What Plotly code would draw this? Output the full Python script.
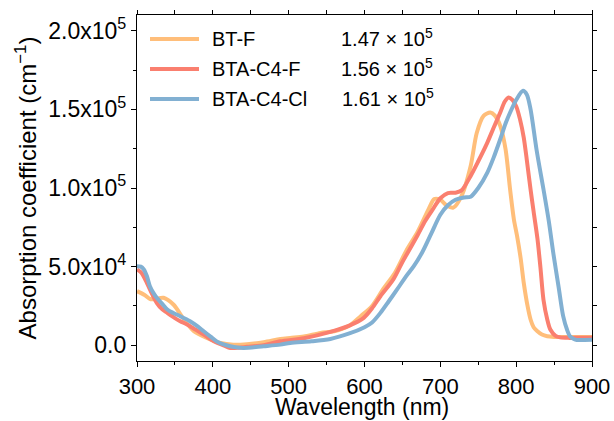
import plotly.graph_objects as go

# ---- data ----
wl_btf = [300, 310, 318, 327, 335, 348, 362, 375, 392, 410, 427, 445, 467, 489, 502, 520, 542, 560, 580, 595,
          610, 625, 640, 655, 670, 685, 692, 700, 708, 717, 728, 740, 748, 757, 766, 772, 779, 786, 792, 797,
          801, 806, 810, 815, 819, 823, 828, 834, 841, 850, 865, 880, 900]
abs_btf = [34400, 32000, 29300, 29800, 30200, 25900, 16400, 8900, 4700, 1500, 400, 700, 1900, 4000, 4700, 5600,
           7900, 8900, 12500, 18500, 25000, 36000, 46000, 60000, 72000, 87000, 93000, 92500, 89000, 87500, 95000,
           114000, 135000, 145900, 148000, 146000, 139500, 124700, 99000, 80000, 70000, 55000, 39700, 25000,
           16400, 11500, 8900, 6800, 5700, 5300, 5200, 5200, 5200]

wl_f = [300, 306, 313, 320, 326, 333, 340, 350, 357, 366, 377, 388, 397, 406, 415, 423, 435, 445, 467, 489,
        520, 555, 580, 599, 610, 621, 638, 650, 656, 670, 680, 690, 700, 710, 720, 728, 740, 750, 762, 770,
        779, 785, 790, 795, 800, 805, 810, 814, 819, 823, 828, 832, 836, 841, 845, 852, 858, 870, 885, 900]
abs_f = [48200, 46000, 39700, 32500, 27000, 23000, 20600, 17300, 15300, 13200, 10000, 6800, 3800, 1500, -200,
         -1700, -1500, -1000, 0, 2500, 4500, 8500, 12500, 17400, 23500, 31200, 41900, 53000, 58000, 70000,
         79000, 86400, 93500, 96800, 97000, 98500, 107700, 117000, 128900, 138000, 148000, 155000, 157600,
         156000, 152000, 143800, 132000, 118000, 99000, 85000, 68000, 49500, 29000, 16400, 10000, 6000, 5000,
         4700, 4800, 4800]

wl_cl = [300, 305, 309, 313, 317, 322, 326, 333, 340, 348, 357, 370, 380, 388, 397, 405, 414, 423, 440, 467,
         489, 502, 530, 555, 580, 600, 610, 621, 632, 643, 655, 665, 676, 688, 700, 710, 720, 731, 740, 750,
         762, 770, 779, 786, 792, 800, 809, 814, 819, 827, 836, 843, 849, 856, 862, 867, 871, 876, 880,
         890, 900]
abs_cl = [50300, 50000, 48200, 44000, 37600, 33000, 30200, 26500, 22700, 20500, 18500, 15300, 12000, 8900, 5500,
          2500, 500, -600, -1700, -600, 400, 1500, 2500, 4000, 7500, 11500, 14500, 20600, 28000, 35500, 44000,
          50300, 59000, 71000, 83000, 89000, 92500, 94000, 94500, 100000, 109800, 119000, 131000, 141000,
          148000, 156000, 161800, 159500, 150000, 124000, 99200, 79000, 58500, 37000, 18500, 10000,
          5700, 4000, 3400, 3400, 3500]

names = ["BT-F", "BTA-C4-F", "BTA-C4-Cl"]
peak_labels = ["1.47 × 10<sup>5</sup>", "1.56 × 10<sup>5</sup>", "1.61 × 10<sup>5</sup>"]
colors = ["#FFBE7A", "#FA7F6F", "#82B0D2"]

x_ticks = [300, 400, 500, 600, 700, 800, 900]
y_ticks = [0, 50000, 100000, 150000, 200000]
y_ticktext = ["0.0", "5.0x10<sup>4</sup>", "1.0x10<sup>5</sup>", "1.5x10<sup>5</sup>", "2.0x10<sup>5</sup>"]
x_range = [300, 900]
y_range = [-10000, 210000]
x_title = "Wavelength (nm)"
y_title = "Absorption coefficient (cm<sup>−1</sup>)"

FONT = "Liberation Sans, Arial, sans-serif"

fig = go.Figure()
for wl, ab, nm, c in zip([wl_btf, wl_f, wl_cl], [abs_btf, abs_f, abs_cl], names, colors):
    fig.add_trace(go.Scatter(x=wl, y=ab, mode="lines", name=nm,
                             line=dict(color=c, width=4, shape="spline", smoothing=0.8),
                             showlegend=False))
# empty trace so the mirrored tick axes (top / right) are drawn
fig.add_trace(go.Scatter(x=[], y=[], xaxis="x2", yaxis="y2", showlegend=False, hoverinfo="skip"))

# manual legend (paper coords)
L, R, T, B = 137, 592, 15, 361
W, H = R - L, B - T
def px(x): return (x - L) / W
def py(y): return (B - y) / H

rows = [39, 69, 99]
shapes = []
annotations = []
for i, (nm, c, pk) in enumerate(zip(names, colors, peak_labels)):
    yy = py(rows[i])
    shapes.append(dict(type="line", xref="paper", yref="paper", x0=px(150), x1=px(199), y0=yy, y1=yy,
                       line=dict(color=c, width=4)))
    annotations.append(dict(xref="paper", yref="paper", x=px(210), y=yy, text=nm, showarrow=False,
                            xanchor="left", yanchor="middle", font=dict(size=20, color="black", family=FONT)))
    annotations.append(dict(xref="paper", yref="paper", x=px(339 + (1 if i == 2 else 0)), y=yy + 0.004, text=pk,
                            showarrow=False, xanchor="left", yanchor="middle",
                            font=dict(size=20, color="black", family=FONT)))
# x-axis title placed just below the tick labels
annotations.append(dict(xref="paper", yref="paper", x=px(362), y=py(421), text=x_title, showarrow=False,
                        xanchor="center", yanchor="bottom", borderpad=0,
                        font=dict(size=23, color="black", family=FONT)))

fig.update_layout(
    width=614, height=421,
    margin=dict(l=L, r=614 - R, t=T, b=421 - B),
    plot_bgcolor="white", paper_bgcolor="white",
    font=dict(family=FONT, size=22, color="black"),
    shapes=shapes, annotations=annotations,
    xaxis=dict(range=x_range, tickvals=x_ticks, ticks="outside", ticklen=5, tickwidth=1.3,
               tickcolor="black", showline=True, linecolor="black", linewidth=1.3, mirror=True,
               showgrid=False, zeroline=False, automargin=False,
               minor=dict(dtick=50, tick0=300, ticks="outside", ticklen=3, tickwidth=1.3, tickcolor="black",
                          showgrid=False),
               tickfont=dict(size=22)),
    yaxis=dict(range=y_range, tickvals=y_ticks, ticktext=y_ticktext, ticks="outside", ticklen=5,
               tickwidth=1.3, tickcolor="black", showline=True, linecolor="black", linewidth=1.3,
               mirror=True, showgrid=False, zeroline=False, automargin=False,
               minor=dict(dtick=25000, tick0=0, ticks="outside", ticklen=3, tickwidth=1.3, tickcolor="black",
                          showgrid=False),
               tickfont=dict(size=23),
               title=dict(text=y_title, font=dict(size=24), standoff=4)),
    xaxis2=dict(overlaying="x", side="top", range=x_range, dtick=50, tick0=300, ticks="outside", ticklen=4,
                tickwidth=1.3, tickcolor="black", showticklabels=False, showgrid=False, zeroline=False,
                showline=False, automargin=False),
    yaxis2=dict(overlaying="y", side="right", range=y_range, dtick=25000, tick0=0, ticks="outside", ticklen=4,
                tickwidth=1.3, tickcolor="black", showticklabels=False, showgrid=False, zeroline=False,
                showline=False, automargin=False),
)

fig.write_html("out.html")
